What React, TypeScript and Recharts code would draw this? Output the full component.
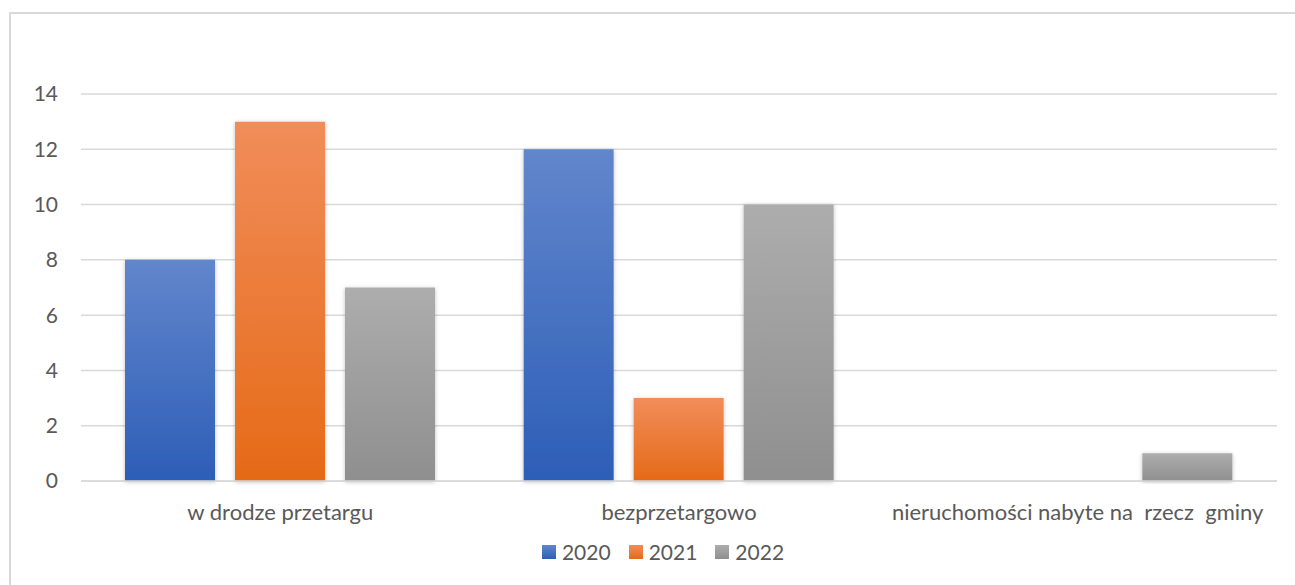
import { BarChart, Bar, XAxis, YAxis, CartesianGrid, Legend } from 'recharts';

const CATEGORIES = ['w drodze przetargu', 'bezprzetargowo', 'nieruchomości nabyte na  rzecz  gminy'];
const SERIES_2020 = [8, 12, 0];
const SERIES_2021 = [13, 3, 0];
const SERIES_2022 = [7, 10, 1];
const Y_TICKS = [0, 2, 4, 6, 8, 10, 12, 14];

const SERIES = [
  { key: '2020', values: SERIES_2020, top: '#6286CC', bottom: '#2D5EB7' },
  { key: '2021', values: SERIES_2021, top: '#F18D5A', bottom: '#E56A17' },
  { key: '2022', values: SERIES_2022, top: '#ADADAD', bottom: '#8F8F8F' },
];

const data = CATEGORIES.map((name, i) => {
  const row: Record<string, string | number> = { name };
  for (const s of SERIES) row[s.key] = s.values[i];
  return row;
});

const FONT = 'Lato, "Open Sans", sans-serif';
const TEXT = '#595959';
const GRID = '#D9D9D9';

const CategoryTick = (props: any) => {
  const { x, y, payload } = props;
  return (
    <text
      x={x}
      y={y}
      dy={16}
      textAnchor="middle"
      fill={TEXT}
      fontSize={22}
      fontFamily={FONT}
      style={{ whiteSpace: 'pre' }}
    >
      {payload.value}
    </text>
  );
};

const LegendContent = () => (
  <div style={{ display: 'flex', justifyContent: 'center', fontFamily: FONT, fontSize: 21, color: TEXT }}>
    {SERIES.map((s) => (
      <div key={s.key} style={{ display: 'flex', alignItems: 'center', marginRight: 18 }}>
        <div
          style={{
            width: 14,
            height: 14,
            marginRight: 6,
            background: `linear-gradient(${s.top}, ${s.bottom})`,
          }}
        />
        <span>{s.key}</span>
      </div>
    ))}
  </div>
);

export default function App() {
  return (
    <div
      style={{
        position: 'absolute',
        left: 9,
        top: 12,
        width: 1286,
        height: 573,
        borderTop: `2px solid ${GRID}`,
        borderLeft: `2px solid ${GRID}`,
        boxSizing: 'border-box',
        background: '#fff',
      }}
    >
      <BarChart
        width={1284}
        height={571}
        data={data}
        margin={{ top: 80, right: 18, bottom: 49, left: 0 }}
        barSize={90}
        barGap={20}
      >
        <defs>
          {SERIES.map((s) => (
            <linearGradient key={s.key} id={`grad${s.key}`} x1="0" y1="0" x2="0" y2="1">
              <stop offset="0%" stopColor={s.top} />
              <stop offset="100%" stopColor={s.bottom} />
            </linearGradient>
          ))}
          <filter id="barShadow" x="-20%" y="-10%" width="140%" height="120%">
            <feDropShadow dx="0" dy="1" stdDeviation="2" floodColor="#000" floodOpacity="0.25" />
          </filter>
        </defs>
        <CartesianGrid vertical={false} stroke={GRID} strokeWidth={1.5} />
        <XAxis
          dataKey="name"
          tick={<CategoryTick />}
          tickLine={false}
          axisLine={{ stroke: GRID, strokeWidth: 1.5 }}
          tickSize={0}
          tickMargin={23}
          interval={0}
        />
        <YAxis
          domain={[0, 14]}
          ticks={Y_TICKS}
          width={70}
          tickLine={false}
          axisLine={false}
          tickSize={0}
          tickMargin={23}
          tick={{ fill: TEXT, fontSize: 21, fontFamily: FONT }}
          interval={0}
        />
        <Legend
          content={<LegendContent />}
          wrapperStyle={{ position: 'absolute', top: 525, left: 28, width: 1266 }}
        />
        {SERIES.map((s) => (
          <Bar
            key={s.key}
            dataKey={s.key}
            fill={`url(#grad${s.key})`}
            filter="url(#barShadow)"
            isAnimationActive={false}
          />
        ))}
      </BarChart>
    </div>
  );
}
